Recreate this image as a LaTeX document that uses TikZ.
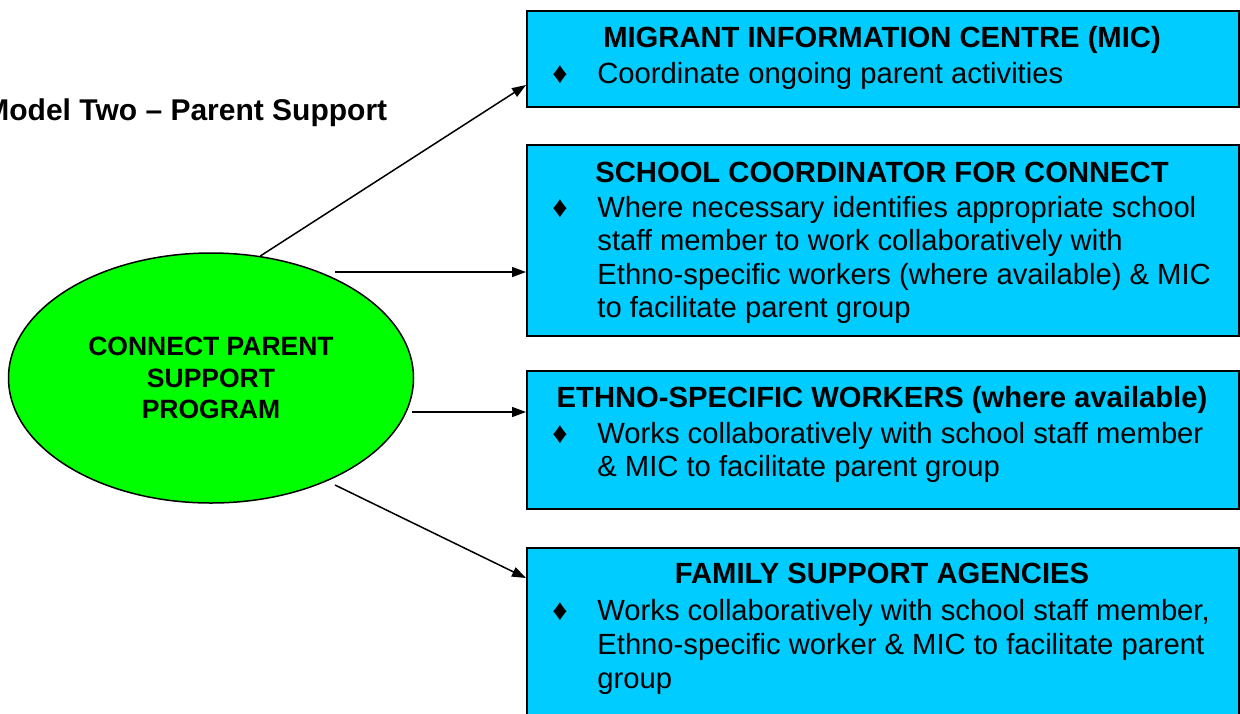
\documentclass[tikz,border=0pt]{standalone}
\usepackage{fontspec}
\setmainfont{Liberation Sans}
\usepackage{tikz}
\usetikzlibrary{arrows.meta,calc,positioning,shapes.geometric}
\definecolor{boxblue}{RGB}{0,204,255}
\definecolor{progreen}{RGB}{0,255,0}
\tikzset{%
	infobox/.style   = {draw, line width=1pt, fill=boxblue, rectangle, anchor=north west, minimum width=356pt, inner sep=0pt},
	boxtitle/.style  = {anchor=base, inner sep=0pt, font=\fontsize{14.6}{16.75}\selectfont\bfseries},
	boxtext/.style   = {anchor=base west, inner sep=0pt, font=\fontsize{14.6}{16.75}\selectfont},
	bulletmark/.style= {anchor=base, inner sep=0pt, font=\fontsize{15}{17}\selectfont},
	program/.style   = {draw, ellipse, line width=0.75pt, fill=progreen, minimum width=202.5pt, minimum height=125pt, align=center, font=\fontsize{13.25}{15.75}\selectfont\bfseries},
	arrow/.style     = {line width=0.75pt, -{Triangle[length=7pt,width=5pt]}},
}
\newcommand{\bul}{\char"2666}

\begin{document}
\begin{tikzpicture}[x=0.5pt,y=-0.5pt]
	\useasboundingbox (0,0) rectangle (1240,713);
	
	\node[anchor=base west, inner sep=0pt, font=\fontsize{15}{18}\selectfont\bfseries] (heading) at (-16,120) {Model Two -- Parent Support};
	
	\node[program] (cpsp) at (211,378) {CONNECT PARENT\\SUPPORT\\PROGRAM};
	
	% boxes on the right
	\node[infobox, minimum height=48pt] (mic) at (526,10) {};
	\node[boxtitle] (mictitle) at (882,47) {MIGRANT INFORMATION CENTRE (MIC)};
	\node[bulletmark] (micbul) at (560,83) {\bul};
	\node[boxtext] (mic1) at (597,83) {Coordinate ongoing parent activities};
	
	\node[infobox, minimum height=95.5pt] (school) at (526,144) {};
	\node[boxtitle] (schooltitle) at (882,182) {SCHOOL COORDINATOR FOR CONNECT};
	\node[bulletmark] (schoolbul) at (560,217) {\bul};
	\foreach \ln [count=\i] in {Where necessary identifies appropriate school, staff member to work collaboratively with, Ethno-specific workers (where available) \& MIC, to facilitate parent group}
		\node[boxtext] (school\i) at (597,{217+33.6*(\i-1)}) {\ln};
	
	\node[infobox, minimum height=69pt] (ethno) at (526,370) {};
	\node[boxtitle] (ethnotitle) at (882,407) {ETHNO-SPECIFIC WORKERS (where available)};
	\node[bulletmark] (ethnobul) at (560,443) {\bul};
	\foreach \ln [count=\i] in {Works collaboratively with school staff member, \& MIC to facilitate parent group}
		\node[boxtext] (ethno\i) at (597,{443+33.6*(\i-1)}) {\ln};
	
	\node[infobox, minimum height=92pt] (family) at (526,547) {};
	\node[boxtitle] (familytitle) at (882,583) {FAMILY SUPPORT AGENCIES};
	\node[bulletmark] (familybul) at (560,620) {\bul};
	\foreach \ln [count=\i] in {{Works collaboratively with school staff member,}, Ethno-specific worker \& MIC to facilitate parent, group}
		\node[boxtext] (family\i) at (597,{620+34*(\i-1)}) {\ln};
	
	% arrows
	\coordinate (s2) at (335,272);
	\coordinate (s3) at (412,412);
	\coordinate (s4) at (335,485);
	\draw[arrow] (cpsp.68.6) -- (mic.west |- 0,85);
	\draw[arrow] (s2) -- (school.west |- s2);
	\draw[arrow] (s3) -- (ethno.west |- s3);
	\draw[arrow] (s4) -- (family.west |- 0,578);
\end{tikzpicture}
\end{document}
